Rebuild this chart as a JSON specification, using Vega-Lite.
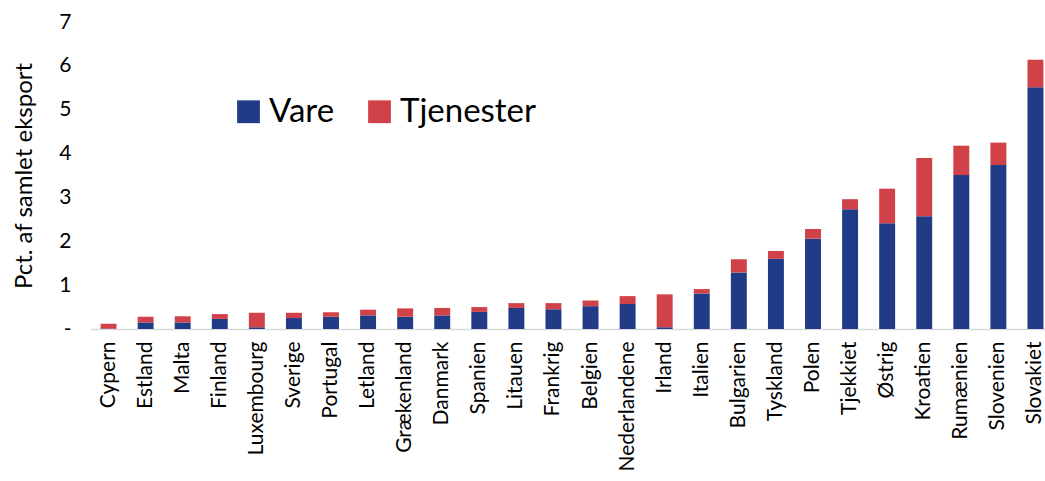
{
  "$schema": "https://vega.github.io/schema/vega-lite/v6.json",
  "autosize": {"type": "none"},
  "padding": {"left": 90, "top": 22, "right": 0, "bottom": 152},
  "width": 964,
  "height": 307,
  "background": "white",
  "config": {"view": {"stroke": null}, "font": "Lato"},
  "data": {"values": [
    {"land": "Cypern", "type": "Vare", "v": 0.01},
    {"land": "Cypern", "type": "Tjenester", "v": 0.11},
    {"land": "Estland", "type": "Vare", "v": 0.15},
    {"land": "Estland", "type": "Tjenester", "v": 0.13},
    {"land": "Malta", "type": "Vare", "v": 0.15},
    {"land": "Malta", "type": "Tjenester", "v": 0.14},
    {"land": "Finland", "type": "Vare", "v": 0.23},
    {"land": "Finland", "type": "Tjenester", "v": 0.11},
    {"land": "Luxembourg", "type": "Vare", "v": 0.04},
    {"land": "Luxembourg", "type": "Tjenester", "v": 0.33},
    {"land": "Sverige", "type": "Vare", "v": 0.25},
    {"land": "Sverige", "type": "Tjenester", "v": 0.12},
    {"land": "Portugal", "type": "Vare", "v": 0.28},
    {"land": "Portugal", "type": "Tjenester", "v": 0.10},
    {"land": "Letland", "type": "Vare", "v": 0.31},
    {"land": "Letland", "type": "Tjenester", "v": 0.13},
    {"land": "Grækenland", "type": "Vare", "v": 0.28},
    {"land": "Grækenland", "type": "Tjenester", "v": 0.19},
    {"land": "Danmark", "type": "Vare", "v": 0.31},
    {"land": "Danmark", "type": "Tjenester", "v": 0.17},
    {"land": "Spanien", "type": "Vare", "v": 0.39},
    {"land": "Spanien", "type": "Tjenester", "v": 0.11},
    {"land": "Litauen", "type": "Vare", "v": 0.48},
    {"land": "Litauen", "type": "Tjenester", "v": 0.11},
    {"land": "Frankrig", "type": "Vare", "v": 0.45},
    {"land": "Frankrig", "type": "Tjenester", "v": 0.14},
    {"land": "Belgien", "type": "Vare", "v": 0.52},
    {"land": "Belgien", "type": "Tjenester", "v": 0.13},
    {"land": "Nederlandene", "type": "Vare", "v": 0.57},
    {"land": "Nederlandene", "type": "Tjenester", "v": 0.18},
    {"land": "Irland", "type": "Vare", "v": 0.04},
    {"land": "Irland", "type": "Tjenester", "v": 0.75},
    {"land": "Italien", "type": "Vare", "v": 0.81},
    {"land": "Italien", "type": "Tjenester", "v": 0.10},
    {"land": "Bulgarien", "type": "Vare", "v": 1.29},
    {"land": "Bulgarien", "type": "Tjenester", "v": 0.30},
    {"land": "Tyskland", "type": "Vare", "v": 1.60},
    {"land": "Tyskland", "type": "Tjenester", "v": 0.18},
    {"land": "Polen", "type": "Vare", "v": 2.06},
    {"land": "Polen", "type": "Tjenester", "v": 0.22},
    {"land": "Tjekkiet", "type": "Vare", "v": 2.73},
    {"land": "Tjekkiet", "type": "Tjenester", "v": 0.23},
    {"land": "Østrig", "type": "Vare", "v": 2.41},
    {"land": "Østrig", "type": "Tjenester", "v": 0.79},
    {"land": "Kroatien", "type": "Vare", "v": 2.57},
    {"land": "Kroatien", "type": "Tjenester", "v": 1.33},
    {"land": "Rumænien", "type": "Vare", "v": 3.51},
    {"land": "Rumænien", "type": "Tjenester", "v": 0.67},
    {"land": "Slovenien", "type": "Vare", "v": 3.74},
    {"land": "Slovenien", "type": "Tjenester", "v": 0.51},
    {"land": "Slovakiet", "type": "Vare", "v": 5.51},
    {"land": "Slovakiet", "type": "Tjenester", "v": 0.63}
  ]},
  "mark": {"type": "bar"},
  "encoding": {
    "x": {
      "field": "land", "type": "nominal", "sort": null,
      "scale": {"paddingInner": 0.57, "paddingOuter": 0.285},
      "axis": {
        "title": null, "labelAngle": -90, "labelAlign": "right", "labelBaseline": "middle",
        "labelFontSize": 21, "labelColor": "#000000", "labelPadding": 12,
        "ticks": false, "domainColor": "#D9D9D9", "domainWidth": 1.5, "labelOverlap": false,
        "labelLimit": 300
      }
    },
    "y": {
      "field": "v", "type": "quantitative", "stack": "zero",
      "scale": {"domain": [0, 7], "nice": false},
      "axis": {
        "title": "Pct. af samlet eksport", "titleFontSize": 24, "titleFontWeight": "normal",
        "titleColor": "#000000", "titlePadding": 22,
        "values": [0, 1, 2, 3, 4, 5, 6, 7],
        "labelExpr": "datum.value == 0 ? '-' : datum.label",
        "labelFontSize": 21, "labelColor": "#000000", "labelPadding": 19,
        "ticks": false, "domain": false, "grid": false
      }
    },
    "color": {
      "field": "type", "type": "nominal",
      "sort": ["Vare", "Tjenester"],
      "scale": {"domain": ["Vare", "Tjenester"], "range": ["#213B87", "#D14248"]},
      "legend": {
        "title": null, "orient": "none", "legendX": 142, "legendY": 73,
        "direction": "horizontal", "symbolType": "square", "symbolSize": 520,
        "symbolStrokeWidth": 0, "symbolOpacity": 1,
        "labelFontSize": 33, "labelColor": "#000000", "labelOffset": 4, "columnPadding": 28
      }
    },
    "order": {"field": "type", "sort": "descending"}
  }
}
